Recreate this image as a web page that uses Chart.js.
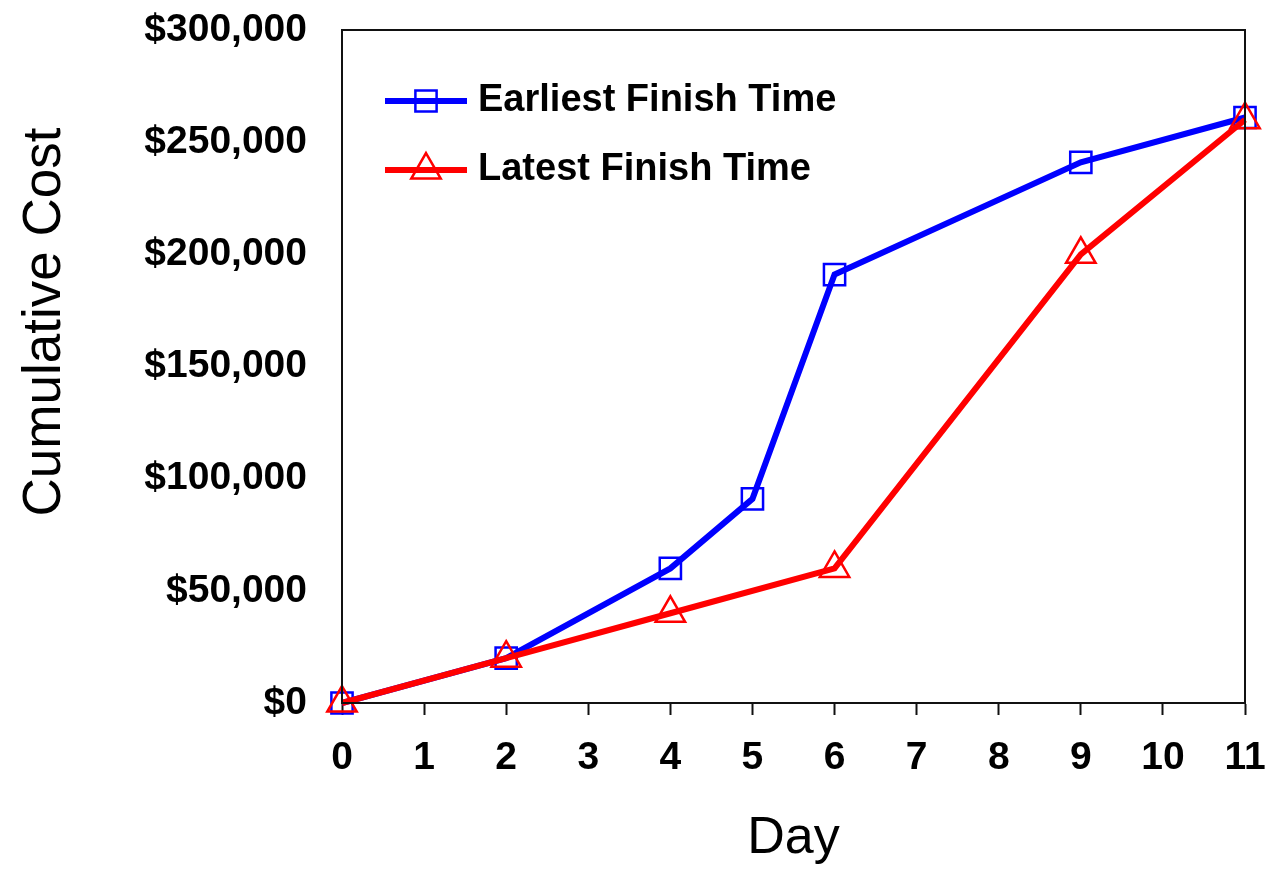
<!DOCTYPE html>
<html>
<head>
<meta charset="utf-8">
<script src="https://cdn.jsdelivr.net/npm/chart.js@4/dist/chart.umd.min.js"></script>
<style>
  html, body { margin: 0; padding: 0; background: #fff; }
  #wrap { width: 1269px; height: 870px; }
</style>
</head>
<body>
<div id="wrap"><canvas id="myChart" width="1269" height="870"></canvas></div>
<script>
const days = [0, 2, 4, 5, 6, 9, 11];
const earliestCost = [0, 20000, 60000, 91000, 191000, 241000, 261000];
const latestDays = [0, 2, 4, 6, 9, 11];
const latestCost = [0, 20000, 40000, 60000, 200000, 260000];
const seriesNames = ["Earliest Finish Time", "Latest Finish Time"];
const xTitle = "Day";
const yTitle = "Cumulative Cost";

const toPoints = (xs, ys) => xs.map((x, i) => ({ x: x, y: ys[i] }));
const FONT = "'Liberation Sans', Arial, sans-serif";

// legend drawn inside the plot, line + marker like the original
const insideLegend = {
  id: "insideLegend",
  afterDraw(chart) {
    const ctx = chart.ctx;
    const area = chart.chartArea;
    // box round the plot
    ctx.save();
    ctx.strokeStyle = "#111";
    ctx.lineWidth = 2;
    ctx.strokeRect(area.left, area.top, area.right - area.left, area.bottom - area.top);
    ctx.restore();

    // y title, sits a bit above the middle in the original
    ctx.save();
    ctx.translate(60, 322);
    ctx.rotate(-Math.PI / 2);
    ctx.fillStyle = "#000";
    ctx.font = "53px " + FONT;
    ctx.textAlign = "center";
    ctx.textBaseline = "alphabetic";
    ctx.fillText(yTitle, 0, 0);
    ctx.restore();

    chart.data.datasets.forEach((ds, i) => {
      const y = area.top + 71 + i * 69;
      const x0 = area.left + 43;
      const x1 = area.left + 125;
      ctx.save();
      ctx.strokeStyle = ds.borderColor;
      ctx.lineWidth = ds.borderWidth;
      ctx.beginPath();
      ctx.moveTo(x0, y);
      ctx.lineTo(x1, y);
      ctx.stroke();
      ctx.fillStyle = "rgba(0,0,0,0)";
      ctx.strokeStyle = ds.pointBorderColor;
      ctx.lineWidth = ds.pointBorderWidth;
      Chart.helpers.drawPoint(ctx, {
        pointStyle: ds.pointStyle,
        radius: ds.pointRadius,
        borderWidth: ds.pointBorderWidth,
        rotation: 0
      }, (x0 + x1) / 2, y);
      ctx.fillStyle = "#000";
      ctx.font = "bold 38px " + FONT;
      ctx.textBaseline = "middle";
      ctx.textAlign = "left";
      ctx.fillText(ds.label, x1 + 11, y);
      ctx.restore();
    });
  }
};

const ctx = document.getElementById("myChart").getContext("2d");

const data = {
  datasets: [
    {
      label: seriesNames[0],
      data: toPoints(days, earliestCost),
      borderColor: "#0000ff",
      backgroundColor: "rgba(0,0,0,0)",
      borderWidth: 6,
      pointStyle: "rect",
      pointRadius: 15,
      pointBorderWidth: 2.5,
      pointBorderColor: "#0000ff",
      pointBackgroundColor: "rgba(0,0,0,0)",
      tension: 0,
      clip: false,
      order: 2,
    },
    {
      label: seriesNames[1],
      data: toPoints(latestDays, latestCost),
      borderColor: "#ff0000",
      backgroundColor: "rgba(0,0,0,0)",
      borderWidth: 6,
      pointStyle: "triangle",
      pointRadius: 17,
      pointBorderWidth: 2.5,
      pointBorderColor: "#ff0000",
      pointBackgroundColor: "rgba(0,0,0,0)",
      tension: 0,
      clip: false,
      order: 1,
    },
  ],
};

const tickFont = { family: FONT, size: 39, weight: "bold" };
const titleFont = { family: FONT, size: 52, weight: "normal" };

const config = {
  type: "line",
  data: data,
  plugins: [insideLegend],
  options: {
    responsive: false,
    animation: false,
    layout: { padding: { top: 30, right: 24, left: 0, bottom: 0 } },
    plugins: {
      legend: { display: false },
      tooltip: { enabled: false },
    },
    scales: {
      x: {
        type: "linear",
        min: 0,
        max: 11,
        afterFit: (scale) => {
          scale.height = 167;
          scale.paddingLeft = 0;
          scale.paddingRight = 0;
        },
        ticks: {
          stepSize: 1,
          color: "#000",
          font: tickFont,
          padding: 20,
          maxRotation: 0,
        },
        grid: {
          drawOnChartArea: false,
          drawTicks: true,
          tickLength: 12,
          tickWidth: 2,
          tickColor: "#111",
        },
        border: { color: "#111", width: 2 },
        title: {
          display: true,
          text: xTitle,
          color: "#000",
          font: titleFont,
          padding: { top: 0, bottom: 0 },
        },
      },
      y: {
        min: 0,
        max: 300000,
        afterFit: (scale) => {
          scale.width = 342;
          scale.paddingTop = 0;
          scale.paddingBottom = 0;
        },
        ticks: {
          stepSize: 50000,
          color: "#000",
          font: tickFont,
          padding: 35,
          callback: (v) => "$" + v.toLocaleString("en-US"),
        },
        grid: {
          drawOnChartArea: false,
          drawTicks: false,
        },
        border: { color: "#111", width: 2 },
        title: { display: false },
      },
    },
  },
};

new Chart(ctx, config);
</script>
</body>
</html>
